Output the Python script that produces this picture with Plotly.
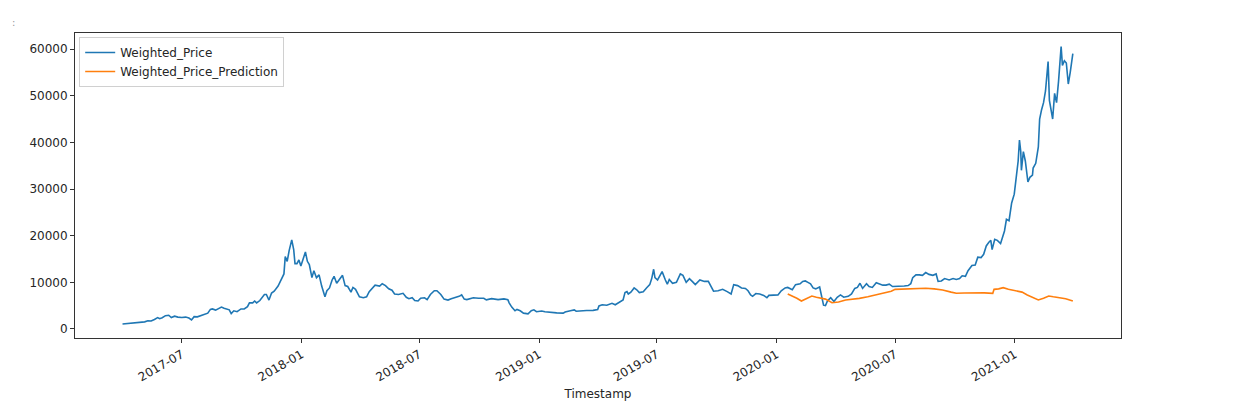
import plotly.graph_objects as go

# ---- data ----
price_dates = [
    "2017-04-01","2017-04-08","2017-04-15","2017-04-22","2017-04-29","2017-05-05","2017-05-10","2017-05-15",
    "2017-05-20","2017-05-25","2017-05-28","2017-06-01","2017-06-06","2017-06-11","2017-06-15","2017-06-20",
    "2017-06-25","2017-07-01","2017-07-07","2017-07-12","2017-07-16","2017-07-20","2017-07-25","2017-07-31",
    "2017-08-05","2017-08-10","2017-08-14","2017-08-17","2017-08-22","2017-08-27","2017-08-31","2017-09-04",
    "2017-09-09","2017-09-12","2017-09-15","2017-09-19","2017-09-24","2017-09-30","2017-10-05","2017-10-10",
    "2017-10-13","2017-10-18","2017-10-21","2017-10-24","2017-10-29","2017-11-02","2017-11-05","2017-11-08",
    "2017-11-12","2017-11-16","2017-11-20","2017-11-26","2017-11-29","2017-12-01","2017-12-05","2017-12-07",
    "2017-12-10","2017-12-13","2017-12-17","2017-12-20","2017-12-22","2017-12-25","2017-12-28","2017-12-31",
    "2018-01-04","2018-01-07","2018-01-10","2018-01-13","2018-01-17","2018-01-20","2018-01-24","2018-01-28",
    "2018-02-01","2018-02-06","2018-02-09","2018-02-13","2018-02-17","2018-02-20","2018-02-24","2018-02-28",
    "2018-03-05","2018-03-09","2018-03-13","2018-03-18","2018-03-21","2018-03-25","2018-03-31","2018-04-06",
    "2018-04-11","2018-04-15","2018-04-20","2018-04-24","2018-05-01","2018-05-05","2018-05-10","2018-05-15",
    "2018-05-20","2018-05-24","2018-05-30","2018-06-06","2018-06-11","2018-06-15","2018-06-20","2018-06-24",
    "2018-06-29","2018-07-03","2018-07-09","2018-07-13","2018-07-18","2018-07-24","2018-07-28","2018-08-03",
    "2018-08-08","2018-08-14","2018-08-19","2018-08-25","2018-08-31","2018-09-04","2018-09-08","2018-09-12",
    "2018-09-17","2018-09-22","2018-09-30","2018-10-08","2018-10-12","2018-10-20","2018-10-30","2018-11-08",
    "2018-11-14","2018-11-16","2018-11-20","2018-11-25","2018-11-28","2018-12-03","2018-12-08","2018-12-15",
    "2018-12-20","2018-12-24","2018-12-28","2019-01-05","2019-01-10","2019-01-15","2019-01-20","2019-01-28",
    "2019-02-07","2019-02-10","2019-02-18","2019-02-24","2019-02-27","2019-03-05","2019-03-15","2019-03-25",
    "2019-04-01","2019-04-03","2019-04-08","2019-04-15","2019-04-23","2019-04-28","2019-05-05","2019-05-10",
    "2019-05-13","2019-05-16","2019-05-18","2019-05-22","2019-05-27","2019-05-31","2019-06-04","2019-06-10",
    "2019-06-15","2019-06-20","2019-06-23","2019-06-26","2019-06-28","2019-07-02","2019-07-09","2019-07-11",
    "2019-07-14","2019-07-17","2019-07-20","2019-07-25","2019-07-31","2019-08-06","2019-08-10","2019-08-15",
    "2019-08-20","2019-08-25","2019-08-29","2019-09-05","2019-09-12","2019-09-18","2019-09-24","2019-09-26",
    "2019-10-03","2019-10-10","2019-10-17","2019-10-23","2019-10-27","2019-11-02","2019-11-08","2019-11-14",
    "2019-11-18","2019-11-22","2019-11-25","2019-11-30","2019-12-06","2019-12-12","2019-12-17","2019-12-20",
    "2019-12-27","2020-01-03","2020-01-08","2020-01-14","2020-01-18","2020-01-25","2020-01-30","2020-02-06",
    "2020-02-10","2020-02-14","2020-02-18","2020-02-22","2020-02-26","2020-03-01","2020-03-07","2020-03-09",
    "2020-03-12","2020-03-13","2020-03-16","2020-03-19","2020-03-24","2020-03-29","2020-04-03","2020-04-08",
    "2020-04-13","2020-04-20","2020-04-25","2020-04-30","2020-05-04","2020-05-08","2020-05-12","2020-05-18",
    "2020-05-22","2020-05-27","2020-06-02","2020-06-07","2020-06-12","2020-06-17","2020-06-22","2020-06-27",
    "2020-07-03","2020-07-10","2020-07-15","2020-07-21","2020-07-25","2020-07-28","2020-08-02","2020-08-07",
    "2020-08-12","2020-08-17","2020-08-22","2020-08-28","2020-09-02","2020-09-05","2020-09-10","2020-09-15",
    "2020-09-22","2020-09-28","2020-10-03","2020-10-08","2020-10-12","2020-10-17","2020-10-21","2020-10-27",
    "2020-11-01","2020-11-05","2020-11-10","2020-11-14","2020-11-18","2020-11-22","2020-11-25","2020-11-27",
    "2020-12-01","2020-12-05","2020-12-10","2020-12-16","2020-12-19","2020-12-23","2020-12-27","2020-12-31",
    "2021-01-03","2021-01-06","2021-01-08","2021-01-10","2021-01-11","2021-01-14","2021-01-17","2021-01-21",
    "2021-01-24","2021-01-28","2021-01-29","2021-02-02","2021-02-06","2021-02-08","2021-02-11","2021-02-14",
    "2021-02-17","2021-02-21","2021-02-23","2021-02-26","2021-02-28","2021-03-03","2021-03-06","2021-03-09",
    "2021-03-13","2021-03-15","2021-03-18","2021-03-21","2021-03-24","2021-03-27","2021-03-31",
]
price_values = [
    1080,1180,1180,1240,1330,1530,1760,1720,
    2050,2450,2200,2400,2850,2950,2450,2750,
    2550,2450,2550,2350,1950,2650,2600,2850,
    3200,3400,4200,4300,4050,4350,4700,4450,
    4300,4100,3300,3900,3700,4300,4300,4800,
    5600,5600,6000,5600,6100,7000,7400,7400,
    6200,7700,8100,9200,10000,10800,11800,15500,
    14500,16800,19100,17000,14000,14000,14800,13500,
    15200,16500,14500,13800,11000,12500,11000,11600,
    9200,6900,8200,8800,10500,11300,9800,10600,
    11500,9300,9100,7900,8900,8500,6900,6700,
    6900,8000,8700,9400,9200,9700,9300,8600,
    8300,7500,7400,7650,6800,6500,6700,6100,
    6000,6600,6700,6300,7400,8200,8200,7400,
    6400,6200,6500,6700,7000,7300,6400,6300,
    6500,6700,6600,6600,6250,6500,6300,6450,
    6300,5600,4700,3900,4200,3900,3400,3250,
    3900,4100,3700,3850,3700,3600,3650,3450,
    3400,3650,3900,4100,3800,3800,3950,4000,
    4150,4950,5200,5100,5500,5200,5800,6200,
    7800,8000,7500,7900,8800,8400,7800,8000,
    8800,9500,10800,12800,11000,10500,12300,11400,
    10500,9600,10600,9800,10000,11800,11500,10000,
    10800,10100,9500,10500,10200,10200,8700,8100,
    8200,8500,8000,7500,9500,9300,8800,8700,
    8200,7300,7000,7600,7500,7200,6700,7200,
    7250,7300,8200,8800,8900,8400,9500,9700,
    10200,10300,10000,9700,8800,8600,9000,7900,
    5600,5100,5000,6000,6700,5900,6800,7300,
    6800,7000,7500,8700,8900,9800,8700,9700,
    9100,8900,9900,9700,9400,9400,9600,9100,
    9100,9250,9200,9300,9700,11000,11600,11600,
    11500,12100,11700,11500,11800,10200,10300,10800,
    10500,10800,10600,10800,11400,11300,12500,13600,
    13700,15400,15300,16000,17800,18600,19000,17000,
    19200,19000,18300,21000,23500,23200,27000,28900,
    32500,36000,40500,38000,34000,38000,36000,31500,
    32500,33000,34500,35500,39000,45000,47000,48500,
    51000,57300,49000,47000,45000,50500,48500,53000,
    60500,56500,57500,57000,52500,55000,59000,
]

pred_dates = [
    "2020-01-18","2020-01-25","2020-02-01","2020-02-08","2020-02-15","2020-02-24","2020-03-02","2020-03-09",
    "2020-03-16","2020-03-26","2020-04-05","2020-04-16","2020-04-25","2020-05-07","2020-05-20","2020-06-02",
    "2020-06-15","2020-06-25","2020-07-01","2020-07-15","2020-08-01","2020-08-17","2020-08-30","2020-09-12",
    "2020-09-25","2020-10-03","2020-10-15","2020-11-03","2020-11-15","2020-11-28","2020-11-30","2020-12-07",
    "2020-12-14","2020-12-22","2021-01-04","2021-01-12","2021-01-20","2021-01-28","2021-02-06","2021-02-14",
    "2021-02-22","2021-03-01","2021-03-12","2021-03-20","2021-03-31",
]
pred_values = [
    7500,7100,6600,6000,6400,7070,6800,6570,
    6400,5640,5800,6210,6300,6570,6900,7290,
    7700,8100,8500,8550,8650,8720,8600,8360,
    7900,7650,7700,7790,7750,7650,8500,8600,
    8860,8500,8210,7900,7290,6800,6210,6600,
    7070,6900,6710,6500,6000,
]

x_tick_vals = ["2017-07-01","2018-01-01","2018-07-01","2019-01-01","2019-07-01","2020-01-01","2020-07-01","2021-01-01"]
x_tick_text = ["2017-07","2018-01","2018-07","2019-01","2019-07","2020-01","2020-07","2021-01"]
y_tick_vals = [0, 10000, 20000, 30000, 40000, 50000, 60000]

FONT = "DejaVu Sans"
TXT = "#262626"

fig = go.Figure()
fig.add_trace(go.Scatter(x=price_dates, y=price_values, mode="lines", name="Weighted_Price",
                         line=dict(color="#1f77b4", width=1.6)))
fig.add_trace(go.Scatter(x=pred_dates, y=pred_values, mode="lines", name="Weighted_Price_Prediction",
                         line=dict(color="#ff7f0e", width=1.6)))

# page body adds an 8px margin, so the figure is sized 8px smaller
fig.update_layout(
    width=1235, height=402,
    margin=dict(l=67, r=122, t=25, b=72),
    paper_bgcolor="white", plot_bgcolor="white",
    font=dict(family=FONT, size=12, color=TXT),
    showlegend=True,
    legend=dict(x=0.004, y=0.987, xanchor="left", yanchor="top",
                bordercolor="#d0d0d0", borderwidth=1, bgcolor="rgba(255,255,255,0.8)",
                font=dict(family=FONT, size=12, color=TXT),
                itemwidth=30, tracegroupgap=0),
    xaxis=dict(
        type="date", range=["2017-01-18", "2021-06-13"],
        tickmode="array", tickvals=x_tick_vals, ticktext=x_tick_text, tickangle=-30,
        ticks="outside", ticklen=4, tickcolor="#333333",
        tickfont=dict(family=FONT, size=12, color=TXT),
        showline=True, linecolor="#333333", linewidth=1, mirror=True,
        showgrid=False, zeroline=False,
        title=dict(text="Timestamp", font=dict(family=FONT, size=12, color=TXT), standoff=6),
    ),
    yaxis=dict(
        range=[-1930, 63430],
        tickmode="array", tickvals=y_tick_vals, ticktext=[str(v) for v in y_tick_vals],
        ticks="outside", ticklen=4, tickcolor="#333333",
        tickfont=dict(family=FONT, size=12, color=TXT),
        showline=True, linecolor="#333333", linewidth=1, mirror=True,
        showgrid=False, zeroline=False,
    ),
    annotations=[dict(text=":", xref="paper", yref="paper", x=-0.062, y=1.06,
                      xanchor="left", yanchor="top", showarrow=False,
                      font=dict(size=10, color="#999999"))],
)

fig.write_html("out.html")
